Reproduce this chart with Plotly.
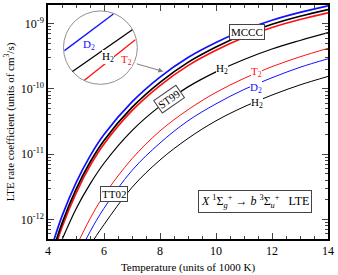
import plotly.graph_objects as go

# Temperatures (units of 1000 K)
T_mccc = [4.2, 4.5, 5.0, 5.5, 6.0, 7.0, 8.0, 9.0, 10.0, 11.0, 12.0, 13.0, 14.0]
# log10 of rate coefficient (cm^3/s)
mccc_D2 = [-12.33, -11.95, -11.44, -11.03, -10.70, -10.20, -9.82, -9.52, -9.29, -9.10, -8.95, -8.83, -8.73]
mccc_H2 = [-12.45, -12.06, -11.54, -11.125, -10.79, -10.285, -9.90, -9.595, -9.36, -9.165, -9.01, -8.888, -8.785]
mccc_T2 = [-12.51, -12.12, -11.60, -11.18, -10.845, -10.335, -9.95, -9.645, -9.41, -9.215, -9.06, -8.938, -8.835]

T_st99 = [4.4, 5.0, 5.5, 6.0, 7.0, 8.0, 9.0, 10.0, 11.0, 12.0, 13.0, 14.0]
st99_H2 = [-12.41, -11.84, -11.46, -11.14, -10.64, -10.265, -9.97, -9.74, -9.55, -9.39, -9.26, -9.14]

T_tt02 = [5.0, 5.5, 6.0, 7.0, 8.0, 9.0, 10.0, 11.0, 12.0, 13.0, 14.0]
tt02_T2 = [-12.42, -11.99, -11.63, -11.07, -10.645, -10.32, -10.055, -9.84, -9.66, -9.51, -9.38]
tt02_D2 = [-12.62, -12.19, -11.83, -11.25, -10.83, -10.49, -10.23, -10.01, -9.83, -9.67, -9.54]
tt02_H2 = [-12.88, -12.41, -12.08, -11.51, -11.09, -10.76, -10.49, -10.275, -10.095, -9.94, -9.81]

x_ticks = [4, 6, 8, 10, 12, 14]
y_tick_exp = [-12, -11, -10, -9]

BLUE = "#1010ff"
RED = "#ff1010"
BLACK = "#000000"
FONT = "Liberation Serif"

fig = go.Figure()

def add(T, logv, color, width):
    fig.add_trace(go.Scatter(x=T, y=[10 ** v for v in logv], mode="lines",
                             line=dict(color=color, width=width, shape="spline"),
                             showlegend=False, hoverinfo="skip"))

add(T_tt02, tt02_H2, BLACK, 1)
add(T_tt02, tt02_D2, BLUE, 1)
add(T_tt02, tt02_T2, RED, 1)
add(T_st99, st99_H2, BLACK, 1.2)
add(T_mccc, mccc_T2, RED, 1.7)
add(T_mccc, mccc_H2, BLACK, 1.7)
add(T_mccc, mccc_D2, BLUE, 1.7)

# plot-area geometry (pixels) for the inset decoration
L, R, TOP, BOT = 47.5, 328.0, 3.0, 239.0
def px(x):
    return (x - L) / (R - L)
def py(y):
    return (BOT - y) / (BOT - TOP)

shapes = []
# inset magnifier circle
shapes.append(dict(type="circle", xref="paper", yref="paper",
                   x0=px(63), x1=px(137), y0=py(83), y1=py(9),
                   line=dict(color="#909090", width=1), fillcolor="white", layer="above"))
for (x0, y0, x1, y1, c) in [(64, 49, 113, 12, BLUE), (72, 70, 132, 28, BLACK), (84, 79, 135, 38, RED)]:
    shapes.append(dict(type="line", xref="paper", yref="paper",
                       x0=px(x0), y0=py(y0), x1=px(x1), y1=py(y1),
                       line=dict(color=c, width=1.3), layer="above"))

ann = []
def lab(x, y, text, color, size=11, border=False, angle=0, xref="x", yref="y", pad=1):
    ann.append(dict(x=x, y=y, xref=xref, yref=yref, text=text, showarrow=False,
                    font=dict(family=FONT, size=size, color=color),
                    bgcolor="white", textangle=angle,
                    bordercolor="#444" if border else None,
                    borderwidth=1 if border else 0, borderpad=pad))

# inset labels
lab(px(83), py(36), "D<sub>2</sub>", BLUE, xref="paper", yref="paper", pad=0)
lab(px(102), py(48), "H<sub>2</sub>", BLACK, xref="paper", yref="paper", pad=0)
lab(px(121), py(51), "T<sub>2</sub>", RED, xref="paper", yref="paper", pad=0)

# curve labels
lab(11.11, -9.137, "MCCC", BLACK, border=True, pad=1)
lab(8.33, -10.154, "ST99", BLACK, border=True, angle=-35, pad=1)
lab(6.37, -11.61, "TT02", BLACK, border=True, pad=1)
lab(10.22, -9.70, "H<sub>2</sub>", BLACK, pad=0)
lab(11.43, -9.744, "T<sub>2</sub>", RED, pad=0)
lab(11.43, -9.987, "D<sub>2</sub>", BLUE, pad=0)
lab(11.47, -10.215, "H<sub>2</sub>", BLACK, pad=0)
lab(11.4, -11.733,
    "<i>X</i> <sup>1</sup>Σ<sub><i>g</i></sub><sup>+</sup> → <i>b</i> <sup>3</sup>Σ<sub><i>u</i></sub><sup>+</sup>   LTE",
    BLACK, size=12, border=True, pad=2)

# arrow from inset
ann.append(dict(x=px(163), y=py(70), xref="paper", yref="paper", text="",
                showarrow=True, ax=-28, ay=-8, arrowcolor="#808080",
                arrowhead=2, arrowsize=1, arrowwidth=1))

fig.update_layout(
    width=338, height=275,
    margin=dict(l=47.5, r=10, t=3, b=36),
    paper_bgcolor="white", plot_bgcolor="white",
    font=dict(family=FONT, size=12, color="black"),
    shapes=shapes, annotations=ann,
)
fig.update_xaxes(range=[4, 14], tickvals=x_ticks, ticktext=[str(v) for v in x_ticks],
                 ticks="inside", ticklen=6, tickwidth=1, showgrid=False, zeroline=False,
                 showline=True, linecolor="black", linewidth=1.5, mirror="allticks",
                 minor=dict(dtick=0.5, ticks="inside", ticklen=3, tickwidth=1, showgrid=False),
                 tickfont=dict(size=12),
                 title=dict(text="Temperature (units of 1000 K)", font=dict(size=11), standoff=6))
minor_y = [k * 10.0 ** e for e in range(-13, -8) for k in range(2, 10)]
fig.update_yaxes(type="log", range=[-12.30, -8.716],
                 tickvals=[10.0 ** e for e in y_tick_exp],
                 ticktext=["10<sup>%d</sup>" % e for e in y_tick_exp],
                 ticks="inside", ticklen=6, tickwidth=1, showgrid=False, zeroline=False,
                 showline=True, linecolor="black", linewidth=1.5, mirror="allticks",
                 minor=dict(tickvals=minor_y, ticks="inside", ticklen=3, tickwidth=1, showgrid=False),
                 tickfont=dict(size=12),
                 title=dict(text="LTE rate coefficient (units of cm<sup>3</sup>/s)", font=dict(size=11), standoff=4))

fig.write_html("out.html", config={"displayModeBar": False},
               post_script="document.body.style.margin='0';")
